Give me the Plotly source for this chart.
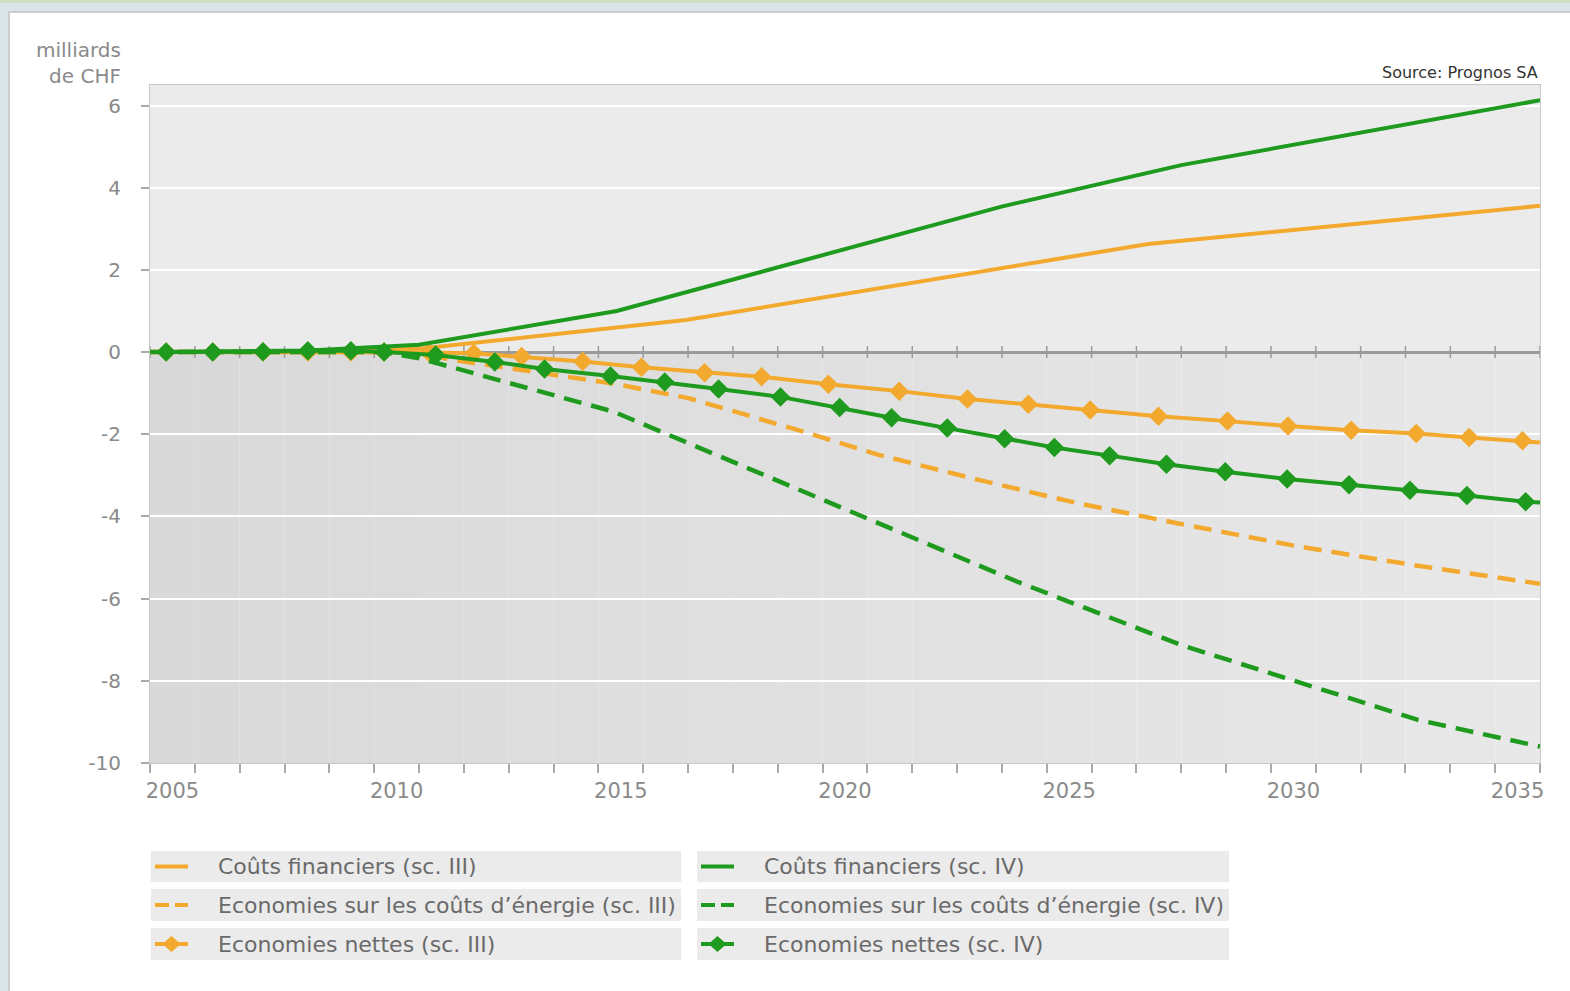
import plotly.graph_objects as go

# positions along the axis are in years (2005 = left edge of the first year slot)
fin3_x = [2005.0, 2008.54, 2011.0, 2016.95, 2027.26, 2036.0]
fin3_y = [0.0, 0.02, 0.08, 0.78, 2.63, 3.56]

fin4_x = [2005.0, 2008.54, 2011.0, 2015.41, 2023.99, 2028.0, 2036.0]
fin4_y = [0.0, 0.04, 0.18, 1.0, 3.54, 4.55, 6.13]

eco3_x = [2005.0, 2010.77, 2011.82, 2015.30, 2017.01, 2019.46, 2021.25, 2023.48,
          2025.70, 2027.93, 2030.61, 2033.28, 2036.0]
eco3_y = [0.0, 0.0, -0.2, -0.76, -1.12, -1.9, -2.5, -3.11, -3.68, -4.17, -4.73, -5.2, -5.64]

eco4_x = [2005.0, 2010.22, 2011.0, 2015.34, 2024.37, 2028.0, 2033.28, 2036.0]
eco4_y = [0.0, 0.0, -0.15, -1.45, -5.6, -7.13, -8.95, -9.6]

net3_x = [2005.36, 2006.40, 2007.52, 2008.52, 2009.48, 2010.22, 2011.22, 2012.22, 2013.29,
          2014.65, 2015.96, 2017.37, 2018.64, 2020.13, 2021.71, 2023.23, 2024.59, 2025.97,
          2027.49, 2029.03, 2030.38, 2031.79, 2033.24, 2034.42, 2035.61, 2036.0]
net3_y = [0.0, 0.0, 0.0, 0.0, 0.0, 0.0, -0.01, -0.03, -0.11, -0.23, -0.37, -0.5, -0.6,
          -0.78, -0.95, -1.14, -1.27, -1.41, -1.56, -1.68, -1.8, -1.9, -1.98, -2.08, -2.16, -2.2]

net4_x = [2005.36, 2006.40, 2007.52, 2008.52, 2009.48, 2010.22, 2011.37, 2012.69, 2013.80,
          2015.27, 2016.48, 2017.68, 2019.06, 2020.38, 2021.54, 2022.78, 2024.06, 2025.17,
          2026.40, 2027.67, 2028.98, 2030.36, 2031.74, 2033.10, 2034.37, 2035.68, 2036.0]
net4_y = [0.0, 0.0, 0.01, 0.03, 0.03, 0.0, -0.07, -0.24, -0.41, -0.58, -0.73, -0.9, -1.09,
          -1.35, -1.6, -1.85, -2.11, -2.32, -2.52, -2.73, -2.91, -3.09, -3.23, -3.36, -3.49,
          -3.64, -3.66]

years = list(range(2005, 2037))
label_years = [2005, 2010, 2015, 2020, 2025, 2030, 2035]
y_ticks = [-10, -8, -6, -4, -2, 0, 2, 4, 6]
y_min, y_max = -10, 6.5

legend_left = ["Coûts financiers (sc. III)",
               "Economies sur les coûts d’énergie (sc. III)",
               "Economies nettes (sc. III)"]
legend_right = ["Coûts financiers (sc. IV)",
                "Economies sur les coûts d’énergie (sc. IV)",
                "Economies nettes (sc. IV)"]

ORANGE = "#F2A92E"
GREEN = "#1E9B1E"
GREY_TXT = "#8a8a8a"
FONT = "DejaVu Sans"

W, H = 1570, 991
ML, MR, MT, MB = 150, 30, 85, 228
PW, PH = W - ML - MR, H - MT - MB


def px(x):
    return (x - ML) / PW


def py(y):
    return (H - MB - y) / PH


def diamonds(n, color):
    # last point only carries the line to the right edge
    return dict(symbol="diamond", color=color, opacity=1, line=dict(width=0),
                size=[15] * (n - 1) + [0])


fig = go.Figure()

fig.add_trace(go.Scatter(x=eco3_x, y=eco3_y, mode="lines",
                         line=dict(color=ORANGE, width=4.5, dash="18px,10px")))
fig.add_trace(go.Scatter(x=fin3_x, y=fin3_y, mode="lines",
                         line=dict(color=ORANGE, width=4)))
fig.add_trace(go.Scatter(x=net3_x, y=net3_y, mode="lines+markers",
                         line=dict(color=ORANGE, width=4),
                         marker=diamonds(len(net3_x), ORANGE)))
fig.add_trace(go.Scatter(x=eco4_x, y=eco4_y, mode="lines",
                         line=dict(color=GREEN, width=4.5, dash="18px,10px")))
fig.add_trace(go.Scatter(x=fin4_x, y=fin4_y, mode="lines",
                         line=dict(color=GREEN, width=4)))
fig.add_trace(go.Scatter(x=net4_x, y=net4_y, mode="lines+markers",
                         line=dict(color=GREEN, width=4),
                         marker=diamonds(len(net4_x), GREEN)))

shapes = []
# outer frame
shapes.append(dict(type="rect", xref="paper", yref="paper", layer="below",
                   x0=px(9), x1=px(1575), y0=py(1000), y1=py(12),
                   fillcolor="white", line=dict(color="#c9cdd0", width=2)))
shapes.append(dict(type="rect", xref="paper", yref="paper", layer="below",
                   x0=px(-5), x1=px(1575), y0=py(3), y1=py(-5),
                   fillcolor="#cfe3c2", line=dict(width=0)))

# light band above zero
shapes.append(dict(type="rect", xref="x", yref="y", layer="below",
                   x0=years[0], x1=years[-1], y0=0, y1=y_max,
                   fillcolor="#ebebeb", line=dict(width=0)))
# grey band below zero, slightly lighter towards the right
n = len(years) - 1
for i in range(n):
    g = int(0xd9 + (0xe8 - 0xd9) * i / (n - 1))
    shapes.append(dict(type="rect", xref="x", yref="y", layer="below",
                       x0=years[i], x1=years[i + 1], y0=y_min, y1=0,
                       fillcolor=f"rgb({g},{g},{g})", line=dict(width=0)))

# crossing ticks on the zero line
for yr in years:
    shapes.append(dict(type="line", xref="x", yref="y", ysizemode="pixel", yanchor=0,
                       x0=yr, x1=yr, y0=-6, y1=6, layer="between",
                       line=dict(color="#9a9a9a", width=1.5)))

# legend boxes
rows = [(851, 882), (889, 921), (928, 960)]
cols = [(151, 681), (697, 1229)]
for ci, (labels, color) in enumerate([(legend_left, ORANGE), (legend_right, GREEN)]):
    bx0, bx1 = cols[ci]
    for ri, (top, bot) in enumerate(rows):
        shapes.append(dict(type="rect", xref="paper", yref="paper",
                           x0=px(bx0), x1=px(bx1), y0=py(bot), y1=py(top),
                           fillcolor="#ebebeb", line=dict(width=0)))
        cy = (top + bot) / 2
        sx0, sx1 = bx0 + 4, bx0 + 37
        if ri == 1:
            dash = "14px,6px"
        else:
            dash = "solid"
        shapes.append(dict(type="line", xref="paper", yref="paper",
                           x0=px(sx0), x1=px(sx1), y0=py(cy), y1=py(cy),
                           line=dict(color=color, width=4, dash=dash)))
        if ri == 2:
            cx = (sx0 + sx1) / 2
            path = (f"M {px(cx - 9)},{py(cy)} L {px(cx)},{py(cy - 8)} "
                    f"L {px(cx + 9)},{py(cy)} L {px(cx)},{py(cy + 8)} Z")
            shapes.append(dict(type="path", xref="paper", yref="paper", path=path,
                               fillcolor=color, line=dict(width=0)))
        fig.add_annotation(xref="paper", yref="paper", x=px(bx0 + 65), y=py(cy),
                           xanchor="left", yanchor="middle", showarrow=False,
                           text=labels[ri], font=dict(family=FONT, size=22, color="#6a6a6a"))

fig.add_annotation(xref="paper", yref="paper", x=px(123), y=py(63),
                   xanchor="right", yanchor="middle", align="right", showarrow=False,
                   text="milliards<br>de CHF", font=dict(family=FONT, size=20, color=GREY_TXT))
fig.add_annotation(xref="paper", yref="paper", x=1.0, y=py(72),
                   xanchor="right", yanchor="middle", showarrow=False,
                   text="Source: Prognos SA", font=dict(family=FONT, size=16, color="#333333"))

fig.update_layout(
    width=W, height=H,
    margin=dict(l=ML, r=MR, t=MT, b=MB),
    paper_bgcolor="#dae5ea",
    plot_bgcolor="#ebebeb",
    showlegend=False,
    shapes=shapes,
    font=dict(family=FONT, color=GREY_TXT),
)
fig.update_xaxes(
    range=[years[0], years[-1]],
    tickmode="array",
    tickvals=[y + 0.5 for y in label_years],
    ticktext=[str(y) for y in label_years],
    ticks="",
    showgrid=False, zeroline=False,
    showline=True, linecolor="#c8c8c8", linewidth=1, mirror=True,
    tickfont=dict(family=FONT, size=21, color=GREY_TXT),
    ticklabelstandoff=9,
    minor=dict(tickmode="array", tickvals=years, ticks="outside", ticklen=9,
               tickcolor="#aaaaaa", tickwidth=1.5, showgrid=False),
)
fig.update_yaxes(
    range=[y_min, y_max],
    tickmode="array",
    tickvals=y_ticks,
    ticktext=[str(v) for v in y_ticks],
    ticks="outside", ticklen=8, tickcolor="#aaaaaa", tickwidth=1.5,
    showgrid=True, gridcolor="white", gridwidth=1.5,
    zeroline=True, zerolinecolor="#9a9a9a", zerolinewidth=2.5,
    showline=True, linecolor="#c8c8c8", linewidth=1, mirror=True,
    tickfont=dict(family=FONT, size=20, color=GREY_TXT),
    ticklabelstandoff=16,
)

fig.write_html("out.html", config={"displayModeBar": False},
               post_script="document.body.style.margin='0';")
